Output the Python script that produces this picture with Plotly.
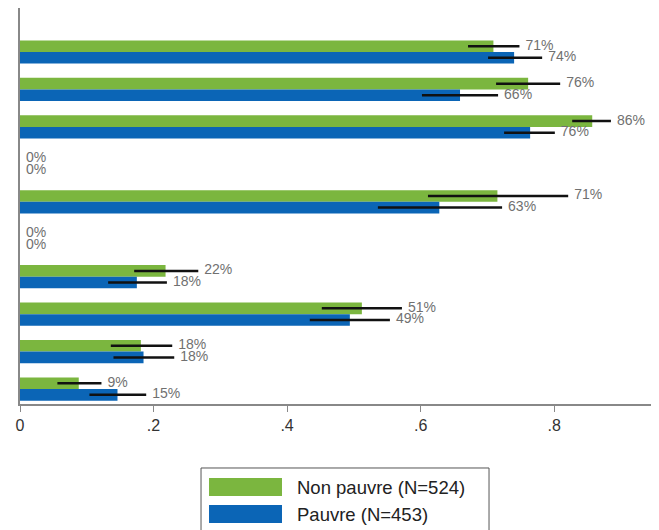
import plotly.graph_objects as go

# ---- data ----
rows = list(range(10))
non_pauvre = [0.709, 0.761, 0.857, 0.0, 0.715, 0.0, 0.218, 0.512, 0.181, 0.088]
non_pauvre_lo = [0.671, 0.713, 0.827, 0.0, 0.611, 0.0, 0.171, 0.452, 0.136, 0.056]
non_pauvre_hi = [0.748, 0.809, 0.885, 0.0, 0.821, 0.0, 0.267, 0.572, 0.228, 0.122]
pauvre = [0.740, 0.659, 0.764, 0.0, 0.628, 0.0, 0.175, 0.494, 0.185, 0.146]
pauvre_lo = [0.701, 0.602, 0.725, 0.0, 0.536, 0.0, 0.132, 0.434, 0.140, 0.104]
pauvre_hi = [0.782, 0.716, 0.801, 0.0, 0.722, 0.0, 0.220, 0.554, 0.231, 0.189]
label_np = ["71%", "76%", "86%", "0%", "71%", "0%", "22%", "51%", "18%", "9%"]
label_p = ["74%", "66%", "76%", "0%", "63%", "0%", "18%", "49%", "18%", "15%"]
tick_vals = [0, 0.2, 0.4, 0.6, 0.8]
tick_text = ["0", ".2", ".4", ".6", ".8"]
series_names = ["Non pauvre (N=524)", "Pauvre (N=453)"]

GREEN = "#7BB63F"
BLUE = "#0B65B6"
half = 0.155
bw = 0.31
FONT = "Liberation Sans, Arial"

y_np = [r - half for r in rows]
y_p = [r + half for r in rows]

fig = go.Figure()

for yv, vals, lo, hi, col, name in [
    (y_np, non_pauvre, non_pauvre_lo, non_pauvre_hi, GREEN, series_names[0]),
    (y_p, pauvre, pauvre_lo, pauvre_hi, BLUE, series_names[1]),
]:
    fig.add_trace(go.Bar(
        x=vals, y=yv, orientation="h", width=bw, name=name,
        marker=dict(color=col, line=dict(width=0)),
        error_x=dict(type="data", symmetric=False,
                     array=[h - v for h, v in zip(hi, vals)],
                     arrayminus=[v - l for v, l in zip(vals, lo)],
                     color="#111111", thickness=2.5, width=0),
        showlegend=False,
    ))

for yv, hi, labs in [(y_np, non_pauvre_hi, label_np), (y_p, pauvre_hi, label_p)]:
    fig.add_trace(go.Scatter(
        x=hi, y=yv, mode="markers+text", text=labs, textposition="middle right",
        marker=dict(size=8, opacity=0),
        textfont=dict(family=FONT, size=14, color="#707070"),
        showlegend=False, hoverinfo="skip", cliponaxis=False,
    ))

# manual legend (box + swatches + text)
shapes = [
    dict(type="rect", xref="paper", yref="paper", x0=0.2833, x1=0.734, y0=-0.1616, y1=-0.345,
         line=dict(color="#555555", width=1), fillcolor="white"),
    dict(type="rect", xref="paper", yref="paper", x0=0.2958, x1=0.410, y0=-0.1869, y1=-0.2323,
         line=dict(width=0), fillcolor=GREEN),
    dict(type="rect", xref="paper", yref="paper", x0=0.2958, x1=0.410, y0=-0.2551, y1=-0.3005,
         line=dict(width=0), fillcolor=BLUE),
]
annotations = [
    dict(xref="paper", yref="paper", x=0.430, y=-0.2121, text=series_names[0], showarrow=False,
         xanchor="left", yanchor="middle", font=dict(family=FONT, size=18.5, color="#222222")),
    dict(xref="paper", yref="paper", x=0.430, y=-0.2803, text=series_names[1], showarrow=False,
         xanchor="left", yanchor="middle", font=dict(family=FONT, size=18.5, color="#222222")),
]

fig.update_layout(
    width=659, height=530,
    margin=dict(l=12, r=8, t=0, b=134, autoexpand=False),
    plot_bgcolor="white", paper_bgcolor="white",
    barmode="overlay",
    shapes=shapes, annotations=annotations,
    font=dict(family=FONT, color="#333333"),
    xaxis=dict(range=[0, 0.957], tickvals=tick_vals, ticktext=tick_text, automargin=False,
               showgrid=False, zeroline=False, showline=True, linecolor="#888888", linewidth=1.5,
               ticks="outside", ticklen=6, tickcolor="#888888",
               tickfont=dict(size=16, color="#333333")),
    yaxis=dict(range=[9.4, -1.175], showticklabels=False, showgrid=False, zeroline=False,
               automargin=False,
               showline=True, linecolor="#888888", linewidth=1.5, ticks=""),
)

fig.write_html("out.html")
